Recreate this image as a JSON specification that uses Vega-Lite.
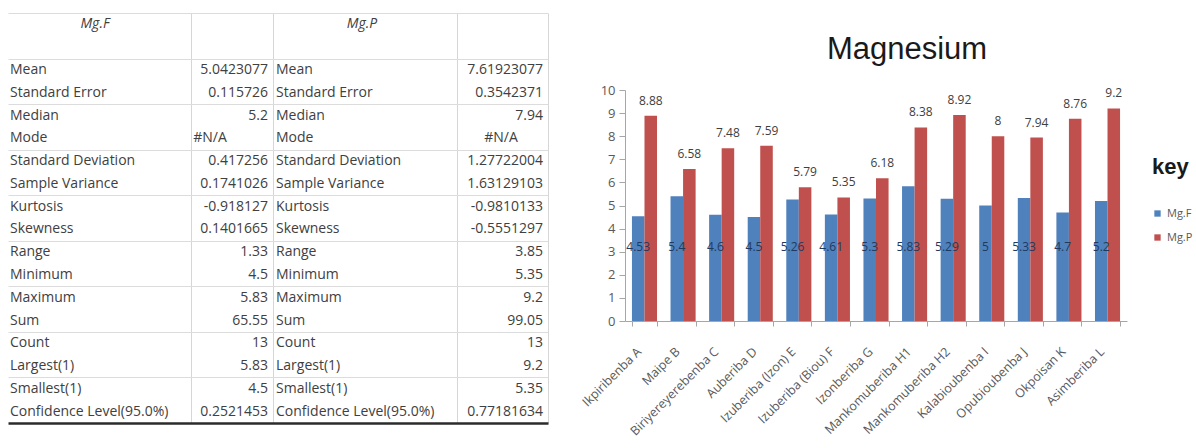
{
  "$schema": "https://vega.github.io/schema/vega-lite/v6.json",
  "padding": {"left": 8, "top": 13, "right": 0, "bottom": 0},
  "bounds": "flush",
  "spacing": 77,
  "background": "white",
  "config": {"view": {"stroke": null}, "font": "Open Sans"},
  "datasets": {
    "stats": [
      {"i": 0, "stat": "Mean", "f": "5.0423077", "p": "7.61923077"},
      {"i": 1, "stat": "Standard Error", "f": "0.115726", "p": "0.3542371"},
      {"i": 2, "stat": "Median", "f": "5.2", "p": "7.94"},
      {"i": 3, "stat": "Mode", "f": "#N/A", "p": "#N/A"},
      {"i": 4, "stat": "Standard Deviation", "f": "0.417256", "p": "1.27722004"},
      {"i": 5, "stat": "Sample Variance", "f": "0.1741026", "p": "1.63129103"},
      {"i": 6, "stat": "Kurtosis", "f": "-0.918127", "p": "-0.9810133"},
      {"i": 7, "stat": "Skewness", "f": "0.1401665", "p": "-0.5551297"},
      {"i": 8, "stat": "Range", "f": "1.33", "p": "3.85"},
      {"i": 9, "stat": "Minimum", "f": "4.5", "p": "5.35"},
      {"i": 10, "stat": "Maximum", "f": "5.83", "p": "9.2"},
      {"i": 11, "stat": "Sum", "f": "65.55", "p": "99.05"},
      {"i": 12, "stat": "Count", "f": "13", "p": "13"},
      {"i": 13, "stat": "Largest(1)", "f": "5.83", "p": "9.2"},
      {"i": 14, "stat": "Smallest(1)", "f": "4.5", "p": "5.35"},
      {"i": 15, "stat": "Confidence Level(95.0%)", "f": "0.2521453", "p": "0.77181634"}
    ],
    "header": [{"col": "Mg.F"}, {"col": "Mg.P"}],
    "mg": [
      {"site": "Ikpiribenba A", "series": "Mg.F", "value": 4.53},
      {"site": "Ikpiribenba A", "series": "Mg.P", "value": 8.88},
      {"site": "Maipe  B", "series": "Mg.F", "value": 5.4},
      {"site": "Maipe  B", "series": "Mg.P", "value": 6.58},
      {"site": "Biriyereyerebenba C", "series": "Mg.F", "value": 4.6},
      {"site": "Biriyereyerebenba C", "series": "Mg.P", "value": 7.48},
      {"site": "Auberiba D", "series": "Mg.F", "value": 4.5},
      {"site": "Auberiba D", "series": "Mg.P", "value": 7.59},
      {"site": "Izuberiba (Izon) E", "series": "Mg.F", "value": 5.26},
      {"site": "Izuberiba (Izon) E", "series": "Mg.P", "value": 5.79},
      {"site": "Izuberiba (Biou) F", "series": "Mg.F", "value": 4.61},
      {"site": "Izuberiba (Biou) F", "series": "Mg.P", "value": 5.35},
      {"site": "Izonberiba G", "series": "Mg.F", "value": 5.3},
      {"site": "Izonberiba G", "series": "Mg.P", "value": 6.18},
      {"site": "Mankomuberiba H1", "series": "Mg.F", "value": 5.83},
      {"site": "Mankomuberiba H1", "series": "Mg.P", "value": 8.38},
      {"site": "Mankomuberiba H2", "series": "Mg.F", "value": 5.29},
      {"site": "Mankomuberiba H2", "series": "Mg.P", "value": 8.92},
      {"site": "Kalabioubenba I", "series": "Mg.F", "value": 5},
      {"site": "Kalabioubenba I", "series": "Mg.P", "value": 8},
      {"site": "Opubioubenba J", "series": "Mg.F", "value": 5.33},
      {"site": "Opubioubenba J", "series": "Mg.P", "value": 7.94},
      {"site": "Okpoisan K", "series": "Mg.F", "value": 4.7},
      {"site": "Okpoisan K", "series": "Mg.P", "value": 8.76},
      {"site": "Asimberiba L", "series": "Mg.F", "value": 5.2},
      {"site": "Asimberiba L", "series": "Mg.P", "value": 9.2}
    ]
  },
  "hconcat": [
    {
      "width": 540,
      "height": 410,
      "view": {"stroke": null},
      "layer": [
        {
          "data": {"name": "stats"},
          "mark": {"type": "text", "align": "left", "baseline": "middle", "fontSize": 14, "color": "#404040"},
          "encoding": {
            "x": {"datum": 10, "type": "quantitative",
              "scale": {"domain": [8, 548], "nice": false, "zero": false},
              "axis": {"values": [191, 273, 457, 548], "grid": true, "gridColor": "#d6d6d6", "labels": false, "ticks": false, "domain": false, "title": null}},
            "y": {"field": "i", "type": "quantitative",
              "scale": {"domain": [-2.5, 15.5], "reverse": true, "nice": false, "zero": false},
              "axis": {"values": [-2.5, -1.62, -0.5, 0.5, 1.5, 2.5, 3.5, 4.5, 5.5, 6.5, 7.5, 8.5, 9.5, 10.5, 11.5, 12.5, 13.5, 14.5, 15.5],
                "grid": true, "labels": false, "ticks": false, "domain": false, "title": null,
                "gridColor": {"condition": {"test": "(datum.value < -1.55 && datum.value > -1.7) || datum.value > 15", "value": "#2b2b2b"}, "value": "#dcdcdc"},
                "gridWidth": {"condition": {"test": "datum.value > 15", "value": 2.5}, "value": 1}}},
            "text": {"field": "stat"}
          }
        },
        {
          "data": {"name": "stats"},
          "transform": [{"filter": "datum.f !== '#N/A'"}],
          "mark": {"type": "text", "align": "right", "baseline": "middle", "fontSize": 14, "color": "#404040"},
          "encoding": {
            "x": {"datum": 268, "type": "quantitative"},
            "y": {"field": "i", "type": "quantitative"},
            "text": {"field": "f"}
          }
        },
        {
          "data": {"name": "stats"},
          "transform": [{"filter": "datum.f === '#N/A'"}],
          "mark": {"type": "text", "align": "center", "baseline": "middle", "fontSize": 14, "color": "#404040"},
          "encoding": {
            "x": {"datum": 210, "type": "quantitative"},
            "y": {"field": "i", "type": "quantitative"},
            "text": {"field": "f"}
          }
        },
        {
          "data": {"name": "stats"},
          "mark": {"type": "text", "align": "left", "baseline": "middle", "fontSize": 14, "color": "#404040"},
          "encoding": {
            "x": {"datum": 276, "type": "quantitative"},
            "y": {"field": "i", "type": "quantitative"},
            "text": {"field": "stat"}
          }
        },
        {
          "data": {"name": "stats"},
          "transform": [{"filter": "datum.p !== '#N/A'"}],
          "mark": {"type": "text", "align": "right", "baseline": "middle", "fontSize": 14, "color": "#404040"},
          "encoding": {
            "x": {"datum": 543, "type": "quantitative"},
            "y": {"field": "i", "type": "quantitative"},
            "text": {"field": "p"}
          }
        },
        {
          "data": {"name": "stats"},
          "transform": [{"filter": "datum.p === '#N/A'"}],
          "mark": {"type": "text", "align": "center", "baseline": "middle", "fontSize": 14, "color": "#404040"},
          "encoding": {
            "x": {"datum": 501, "type": "quantitative"},
            "y": {"field": "i", "type": "quantitative"},
            "text": {"field": "p"}
          }
        },
        {
          "data": {"name": "header"},
          "transform": [{"filter": "datum.col === 'Mg.F'"}],
          "mark": {"type": "text", "align": "center", "baseline": "middle", "fontSize": 14, "fontStyle": "italic", "color": "#404040"},
          "encoding": {
            "x": {"datum": 95, "type": "quantitative"},
            "y": {"datum": -2, "type": "quantitative"},
            "text": {"field": "col"}
          }
        },
        {
          "data": {"name": "header"},
          "transform": [{"filter": "datum.col === 'Mg.P'"}],
          "mark": {"type": "text", "align": "center", "baseline": "middle", "fontSize": 14, "fontStyle": "italic", "color": "#404040"},
          "encoding": {
            "x": {"datum": 362, "type": "quantitative"},
            "y": {"datum": -2, "type": "quantitative"},
            "text": {"field": "col"}
          }
        }
      ]
    },
    {
      "width": 502,
      "height": 308,
      "view": {"stroke": null},
      "data": {"name": "mg"},
      "title": {"text": "Magnesium", "font": "Liberation Sans", "fontSize": 31, "fontWeight": "normal", "color": "#1a1a1a", "anchor": "middle", "baseline": "alphabetic", "offset": -47, "dy": 30, "dx": 31},
      "encoding": {
        "x": {"field": "site", "type": "nominal", "sort": null,
          "scale": {"paddingInner": 0.35, "paddingOuter": 0.18},
          "axis": {"title": null, "labelAngle": -45, "labelFontSize": 12.5, "labelColor": "#595959", "domainColor": "#a6a6a6", "tickColor": "#a6a6a6", "tickBand": "extent", "tickSize": 5, "labelPadding": 19, "labelOffset": -10, "labelLimit": 0}},
        "xOffset": {"field": "series", "type": "nominal", "sort": ["Mg.F", "Mg.P"]}
      },
      "layer": [
        {
          "mark": {"type": "bar"},
          "encoding": {
            "y": {"field": "value", "type": "quantitative",
              "scale": {"domain": [0, 10], "range": [308, 77], "nice": false},
              "axis": {"values": [0, 1, 2, 3, 4, 5, 6, 7, 8, 9, 10], "labelOverlap": false, "grid": false, "title": null, "labelFontSize": 13, "labelColor": "#595959", "domainColor": "#a6a6a6", "tickColor": "#a6a6a6", "tickSize": 6, "labelPadding": 4}},
            "color": {"field": "series", "type": "nominal",
              "scale": {"domain": ["Mg.F", "Mg.P"], "range": ["#4f81bd", "#c0504d"]},
              "legend": {"title": "key", "orient": "none", "legendX": 1144, "legendY": 144, "titleFont": "Liberation Sans", "titleFontSize": 22, "titleFontWeight": "bold", "titleColor": "#1a1a1a", "titlePadding": 29, "labelFontSize": 11, "labelColor": "#595959", "symbolType": "square", "symbolSize": 40, "rowPadding": 12, "symbolStrokeWidth": 0}}
          }
        },
        {
          "transform": [{"filter": "datum.series === 'Mg.P'"}],
          "mark": {"type": "text", "baseline": "bottom", "dy": -8, "fontSize": 12, "color": "#404040"},
          "encoding": {
            "y": {"field": "value", "type": "quantitative",
              "axis": {"values": [0, 1, 2, 3, 4, 5, 6, 7, 8, 9, 10], "labelOverlap": false, "grid": false, "title": null, "labelFontSize": 13, "labelColor": "#595959", "domainColor": "#a6a6a6", "tickColor": "#a6a6a6", "tickSize": 6, "labelPadding": 4}},
            "text": {"field": "value", "type": "quantitative"}
          }
        },
        {
          "transform": [{"filter": "datum.series === 'Mg.F'"}],
          "mark": {"type": "text", "baseline": "middle", "fontSize": 12, "color": "#1f3a5f"},
          "encoding": {
            "y": {"datum": 3.2, "type": "quantitative",
              "axis": {"values": [0, 1, 2, 3, 4, 5, 6, 7, 8, 9, 10], "labelOverlap": false, "grid": false, "title": null, "labelFontSize": 13, "labelColor": "#595959", "domainColor": "#a6a6a6", "tickColor": "#a6a6a6", "tickSize": 6, "labelPadding": 4}},
            "text": {"field": "value", "type": "quantitative"}
          }
        }
      ]
    }
  ]
}
